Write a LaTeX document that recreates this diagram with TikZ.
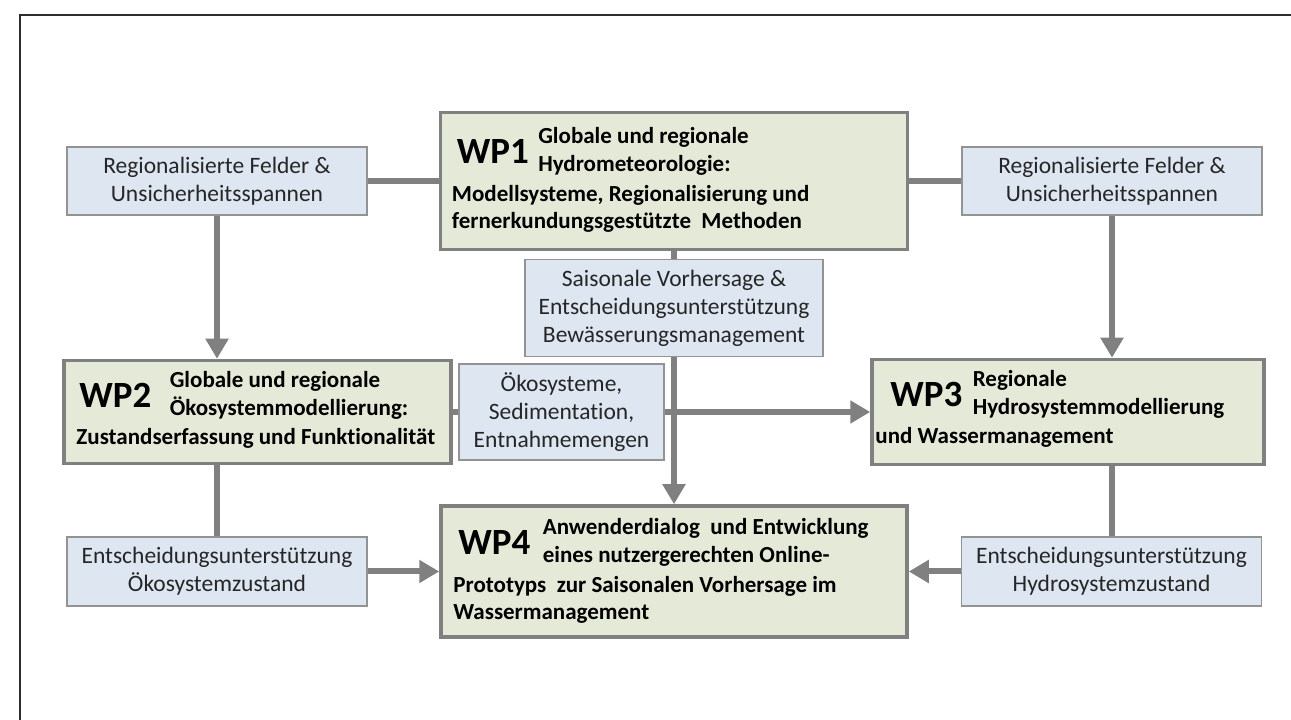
\documentclass[tikz,border=0pt]{standalone}
\usepackage{fontspec}
\setmainfont{Carlito}[Ligatures=NoCommon]
\usepackage{tikz}
\usetikzlibrary{arrows.meta,positioning,calc}
\usepackage{xcolor}
\definecolor{wpgreen}{RGB}{229,233,216}
\definecolor{wpblue}{RGB}{221,230,241}
\definecolor{wpgray}{RGB}{128,128,128}
\definecolor{wpframe}{RGB}{45,45,45}
\tikzstyle{link} = [line width=6pt, draw=wpgray]
\tikzstyle{arrow} = [link, -{Triangle[length=20pt,width=22pt]}]
\tikzstyle{wpbox} = [draw=wpgray, line width=3.5pt, fill=wpgreen, inner sep=0pt]
\tikzstyle{infobox} = [draw=wpgray!85, line width=1.8pt, fill=wpblue, align=center, inner sep=0pt, text=black!85, font=\fontsize{23.5}{28}\selectfont]
\tikzstyle{wplabel} = [inner sep=0pt, anchor=base west, font=\fontsize{37}{37}\selectfont\bfseries]
\tikzstyle{wpside} = [inner sep=0pt, align=left, font=\fontsize{23}{28}\selectfont\bfseries]
\tikzstyle{wptext} = [inner sep=0pt, align=left, anchor=north west, font=\fontsize{23}{27}\selectfont\bfseries]

\begin{document}
\begin{tikzpicture}[x=1pt, y=1pt]
    \useasboundingbox (0,0) rectangle (1291,720);
    % Frame
    \draw[wpframe, line width=2.5pt] (20,0) -- (20,705) -- (1291,705);

    % Top row
    \node[infobox, minimum width=300pt, minimum height=68pt] (regl) at (217,539) {Regionalisierte Felder \&\\Unsicherheitsspannen};
    \node[wpbox, minimum width=467pt, minimum height=137pt] (wp1) at (674,539) {};
    \node[infobox, minimum width=300pt, minimum height=68pt] (regr) at (1112,539) {Regionalisierte Felder \&\\Unsicherheitsspannen};
    \node[infobox, minimum width=298pt, minimum height=97pt] (sais) at (674,412) {Saisonale Vorhersage \&\\Entscheidungsunterstützung\\Bewässerungsmanagement};

    % Middle row
    \node[wpbox, minimum width=387pt, minimum height=103pt] (wp2) at (257.5,308) {};
    \node[infobox, minimum width=205pt, minimum height=96pt] (oeko) at (561.5,308) {Ökosysteme,\\Sedimentation,\\Entnahmemengen};
    \node[wpbox, minimum width=392pt, minimum height=105pt] (wp3) at (1068,308) {};

    % Bottom row
    \node[infobox, minimum width=300pt, minimum height=69pt] (entl) at (217,148.5) {Entscheidungsunterstützung\\Ökosystemzustand};
    \node[wpbox, minimum width=466pt, minimum height=131pt] (wp4) at (674,148.5) {};
    \node[infobox, minimum width=300pt, minimum height=69pt] (entr) at (1111.5,148.5) {Entscheidungsunterstützung\\Hydrosystemzustand};

    % Work package texts
    \node[wplabel] (wp1l) at ($(wp1.north west)+(18,-53)$) {WP1};
    \node[wpside, right=9pt of wp1l] (wp1s) {Globale und regionale\\Hydrometeorologie:};
    \node[wptext] (wp1t) at ($(wp1.north west)+(13,-74)$) {Modellsysteme, Regionalisierung und\\fernerkundungsgestützte\ \ Methoden};

    \node[wplabel] (wp2l) at ($(wp2.north west)+(17,-49)$) {WP2};
    \node[wpside, right=18pt of wp2l] (wp2s) {Globale und regionale\\Ökosystemmodellierung:};
    \node[wptext] (wp2t) at ($(wp2.north west)+(14,-69)$) {Zustandserfassung und Funktionalität};

    \node[wplabel] (wp3l) at ($(wp3.north west)+(20,-49)$) {WP3};
    \node[wpside, right=10pt of wp3l] (wp3s) {Regionale\\Hydrosystemmodellierung};
    \node[wptext] (wp3t) at ($(wp3.north west)+(5,-69)$) {und Wassermanagement};

    \node[wplabel] (wp4l) at ($(wp4.north west)+(19,-50)$) {WP4};
    \node[wpside, right=12pt of wp4l] (wp4s) {Anwenderdialog\ \ und Entwicklung\\eines nutzergerechten Online-};
    \node[wptext] (wp4t) at ($(wp4.north west)+(14,-72)$) {Prototyps\ \ zur Saisonalen Vorhersage im\\Wassermanagement};

    % Connectors
    \draw[link] (regl) -- (wp1);
    \draw[link] (wp1) -- (regr);
    \draw[arrow] (regl) -- (regl |- wp2.north);
    \draw[arrow] (regr) -- (regr |- wp3.north);
    \draw[link] (wp1) -- (sais);
    \draw[arrow] (sais) -- (wp4);
    \draw[link] (wp2) -- (oeko);
    \draw[arrow] (oeko) -- (wp3);
    \draw[link] (wp2.south -| entl) -- (entl);
    \draw[link] (wp3.south -| entr) -- (entr);
    \draw[arrow] (entl) -- (wp4);
    \draw[arrow] (entr) -- (wp4);
\end{tikzpicture}
\end{document}
